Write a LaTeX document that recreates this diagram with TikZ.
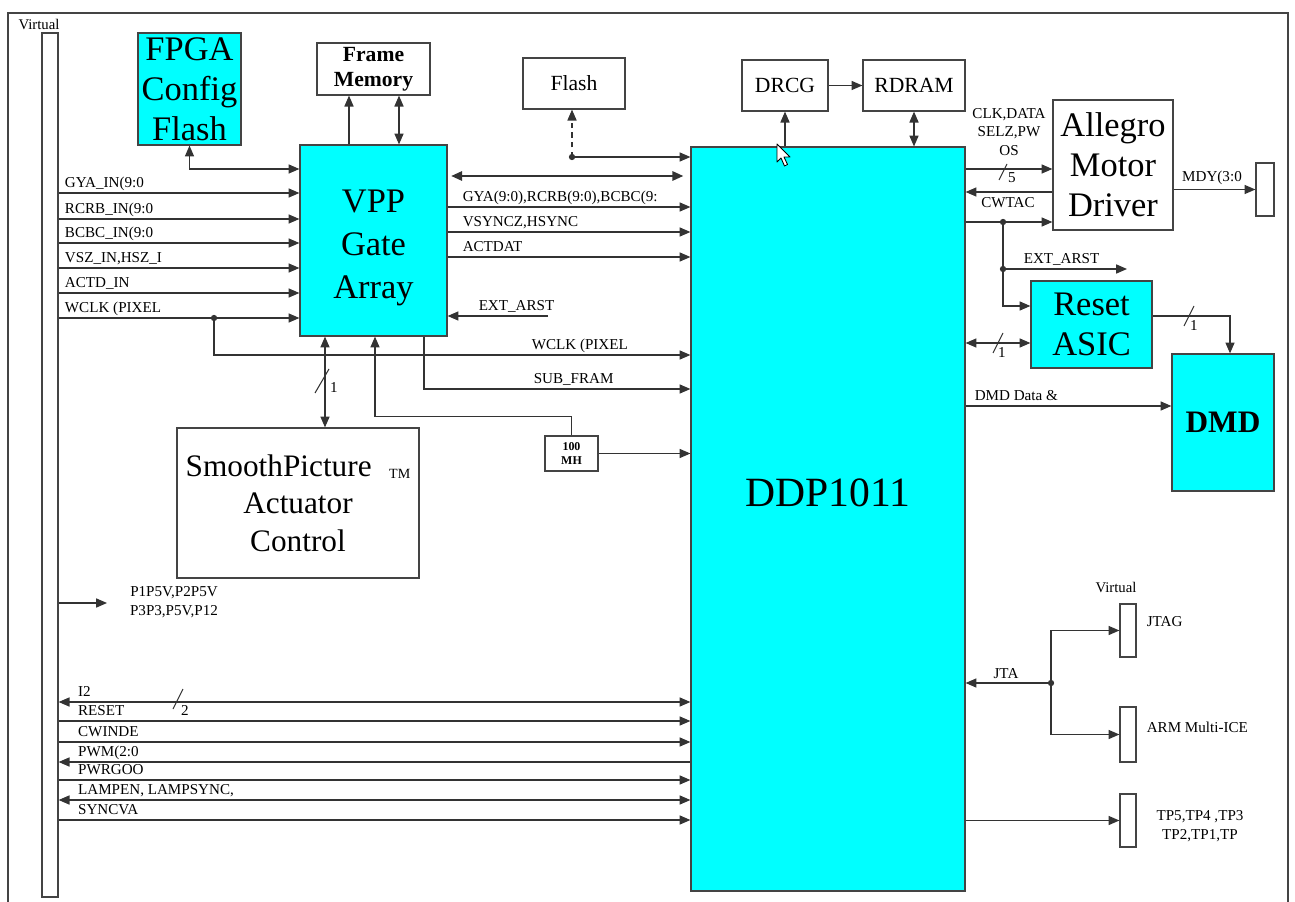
\documentclass[tikz,border=0pt]{standalone}
\usepackage{fontspec}
\setmainfont{Liberation Serif}
\usepackage{xcolor}
\usetikzlibrary{arrows.meta}
\definecolor{asicCyan}{HTML}{00FFFF}
\definecolor{wireGray}{HTML}{333333}
\definecolor{edgeGray}{HTML}{444444}
\tikzset{
    blk/.style={draw=edgeGray, fill=white, line width=0.7pt, inner sep=0pt,
                align=center},
    chip/.style={blk, fill=asicCyan},
    vbar/.style={draw=edgeGray, fill=white, line width=0.7pt, inner sep=0pt,
                 minimum width=0.32cm},
    bigTxt/.style={font=\fontsize{19.6}{22.7}\selectfont, align=center},
    midTxt/.style={font=\fontsize{12.3}{14}\selectfont},
    sig/.style={font=\fontsize{8.6}{10.6}\selectfont, inner sep=0.8pt, align=center},
    tag/.style={sig, text height=0.68em, text depth=0.22em},
    wire/.style={draw=wireGray, line width=0.65pt},
    bus/.style={wire, line width=1.3pt},
    busSlash/.style={draw=wireGray, line width=0.6pt},
    junc/.style={circle, fill=wireGray, inner sep=0pt, minimum size=3.6pt},
}

\begin{document}
\begin{tikzpicture}[x=0.02cm, y=-0.02cm, >={Triangle[length=6.2pt,width=5.2pt]}]
\useasboundingbox (0,0) rectangle (1295,902);

% outer frame, bottom edge runs off the sheet
\draw[edgeGray, line width=0.8pt] (8,902) |- (1288,13) -- (1288,902);
\node[sig, font=\fontsize{8.4}{10}\selectfont] (virtL) at (39,24) {Virtual};

% ---------------- BLOCKS ----------------
\node[vbar, minimum height=17.28cm] (vbarL) at (50,465) {};
\node[chip, bigTxt, minimum width=2.06cm, minimum height=2.24cm] (fpga) at (189.5,89)
     {FPGA\\Config\\Flash};
\node[blk, font=\fontsize{12.3}{14}\selectfont\bfseries,
      minimum width=2.26cm, minimum height=1.04cm] (fmem) at (373.5,69) {Frame\\Memory};
\node[chip, minimum width=2.94cm, minimum height=3.82cm] (vpp) at (373.5,240.5) {};
\node[bigTxt, font=\fontsize{19.6}{24.4}\selectfont] (vppTxt) at (373.5,248)
     {VPP\\Gate\\Array};
\node[blk, midTxt, minimum width=2.04cm, minimum height=1.02cm] (flash) at (574,83.5) {Flash};
\node[blk, midTxt, minimum width=1.72cm, minimum height=1.02cm] (drcg) at (785,85.5) {DRCG};
\node[blk, midTxt, minimum width=2.04cm, minimum height=1.02cm] (rdram) at (914,85.5) {RDRAM};
\node[chip, minimum width=5.48cm, minimum height=14.88cm] (ddp) at (828,519) {};
\node[font=\fontsize{23.7}{28}\selectfont] (ddpTxt) at (828,493) {DDP1011};
\node[blk, bigTxt, minimum width=2.4cm, minimum height=2.6cm] (allegro) at (1113,165)
     {Allegro\\Motor\\Driver};
\node[vbar, minimum width=0.36cm, minimum height=1.06cm] (mdybar) at (1265,189.5) {};
\node[chip, bigTxt, minimum width=2.42cm, minimum height=1.74cm] (reset) at (1091.5,324.5)
     {Reset\\ASIC};
\node[chip, font=\fontsize{17.8}{21}\selectfont\bfseries,
      minimum width=2.04cm, minimum height=2.74cm] (dmd) at (1223,422.5) {DMD};
\node[blk, font=\fontsize{6.8}{8}\selectfont\bfseries,
      minimum width=1.06cm, minimum height=0.7cm] (mh100) at (571.5,453.5) {100\\MH};
\node[blk, font=\fontsize{17.8}{21.3}\selectfont,
      minimum width=4.84cm, minimum height=3cm] (smooth) at (298,503)
     {SmoothPicture\hspace{10pt}\raisebox{-1.5pt}{\fontsize{8}{9}\selectfont TM}\\Actuator\\Control};
\node[vbar, minimum height=1.06cm] (jtagbar) at (1128,630.5) {};
\node[vbar, minimum height=1.1cm]  (armbar)  at (1128,734.5) {};
\node[vbar, minimum height=1.06cm] (tpbar)   at (1128,820.5) {};

% ---------------- VPP SIDE ----------------
\draw[wire, <->] (vpp.west |- 0,169) -| (fpga.south);
\draw[wire, ->]  (vpp.north -| 349,0) -- (fmem.south -| 349,0);
\draw[wire, <->] (vpp.north -| 399,0) -- (fmem.south -| 399,0);

% video inputs from the virtual connector
\foreach \yy/\txt/\nm in {193/GYA\_IN(9:0/iGya, 219/RCRB\_IN(9:0/iRcrb,
        243/BCBC\_IN(9:0/iBcbc, 268/{VSZ\_IN,HSZ\_I}/iSz, 293/ACTD\_IN/iAct,
        318/WCLK (PIXEL/iWclk}
  \draw[wire, ->] (vbarL.east |- 0,\yy) -- (vpp.west |- 0,\yy)
    node[tag, pos=0, anchor=south west, xshift=2.5pt] (\nm) {\txt};

% pixel clock tapped off to the DDP
\node[junc] (wDot) at (214,318) {};
\draw[wire, ->] (wDot.center) |- (ddp.west |- 0,355);
\node[tag, anchor=south west] (wclkLbl) at (530,355) {WCLK (PIXEL};

\draw[wire, ->] (vpp.south -| 424,0) |- (ddp.west |- 0,389);
\node[tag, anchor=south west] (subLbl) at (532,389) {SUB\_FRAM};

\coordinate (arstSrc) at (548,316);
\draw[wire, ->] (arstSrc) -- (vpp.east |- arstSrc);
\node[tag, anchor=south west] (arstLbl) at (477,316) {EXT\_ARST};

% VPP -> DDP
\draw[bus, <->, shorten <=2pt, shorten >=4pt] (vpp.east |- 0,176) -- (ddp.west |- 0,176);
\foreach \yy/\txt/\nm in {207/{GYA(9:0),RCRB(9:0),BCBC(9:}/oGya,
        232/{VSYNCZ,HSYNC}/oSync, 257/ACTDAT/oAct}
  \draw[wire, ->] (vpp.east |- 0,\yy) -- (ddp.west |- 0,\yy)
    node[tag, pos=0, anchor=south west, xshift=7.5pt] (\nm) {\txt};

% program flash
\node[junc] (fDot) at (572,157) {};
\draw[wire, ->, dash pattern=on 3pt off 2.5pt] (fDot.center) -- (flash.south -| fDot.center);
\draw[wire, ->] (fDot.center) -- (ddp.west |- fDot.center);

% actuator link
\draw[wire, <->] (vpp.south -| 325,0) -- (smooth.north -| 325,0);
\draw[busSlash] (322,381) ++(-7,12) -- ++(14,-24);
\node[tag] (smBits) at (334,388) {1};

% 100 MHz oscillator
\draw[wire, ->] (mh100.north) -- ++(0,-19) -| (vpp.south -| 375,0);
\draw[wire, ->] (mh100.east) -- (ddp.west |- mh100.east);

% ---------------- DDP TOP / RIGHT ----------------
\draw[wire, ->]  (ddp.north -| drcg.south) -- (drcg.south);
\draw[wire, ->]  (drcg.east) -- (rdram.west);
\draw[wire, <->] (rdram.south) -- (ddp.north -| rdram.south);

% motor driver
\node[sig] (ctlLbl) at (1009,132) {CLK,DATA\\SELZ,PW\\OS};
\draw[wire, ->] (ddp.east |- 0,169) -- (allegro.west |- 0,169);
\draw[busSlash] (1003,172) ++(-4,8) -- ++(8,-16);
\node[tag] (motBits) at (1012,178) {5};
\draw[wire, ->] (allegro.west |- 0,192) -- (ddp.east |- 0,192);
\node[sig] (cwLbl) at (1008,203) {CWTAC};
\node[junc] (cDot) at (1003,222) {};
\draw[wire, ->] (ddp.east |- cDot.center) -- (allegro.west |- cDot.center);
\draw[wire, ->] (allegro.east |- mdybar.west) -- (mdybar.west);
\node[sig] (mdyLbl) at (1212,178) {MDY(3:0};

% reset chain
\node[junc] (aDot) at (1003,269) {};
\draw[wire] (cDot.center) -- (aDot.center);
\coordinate (arstDst) at (1127,269);
\draw[wire, ->] (aDot.center) -- (arstDst);
\node[tag, anchor=south west] (arst2Lbl) at (1022,269) {EXT\_ARST};
\draw[wire, ->] (aDot.center) |- (reset.west |- 0,306);
\draw[wire, <->] (ddp.east |- 0,343) -- (reset.west |- 0,343);
\draw[busSlash] (998,343) ++(-5,10) -- ++(10,-20);
\node[tag] (rstBits) at (1002,353) {1};
\draw[wire, ->] (reset.east |- 0,316) -| (dmd.north -| 1230,0);
\draw[busSlash] (1189,316) ++(-5,10) -- ++(10,-20);
\node[tag] (dmdBits) at (1194,326) {1};

% DMD data
\draw[wire, ->] (ddp.east |- 0,406) -- (dmd.west |- 0,406);
\node[tag, anchor=south west] (dmdLbl) at (973,406) {DMD Data \&};

% debug connectors
\node[sig, font=\fontsize{8.4}{10}\selectfont] (virtR) at (1116,587) {Virtual};
\node[junc] (jDot) at (1051,683) {};
\draw[wire, ->] (jDot.center) -- (ddp.east |- jDot.center);
\node[sig] (jtaLbl) at (1006,674) {JTA};
\draw[wire, ->] (jDot.center) |- (jtagbar.west);
\draw[wire, ->] (jDot.center) |- (armbar.west);
\node[sig, anchor=west] (jtagLbl) at (1145,622) {JTAG};
\node[sig, anchor=west] (armLbl) at (1145,727) {ARM Multi-ICE};
\draw[wire, ->] (ddp.east |- tpbar.west) -- (tpbar.west);
\node[sig] (tpLbl) at (1200,826) {TP5,TP4 ,TP3\\TP2,TP1,TP};

% ---------------- LEFT BOTTOM ----------------
\coordinate (pwrDst) at (107,603);
\draw[wire, ->] (vbarL.east |- pwrDst) -- (pwrDst);
\node[sig] (pwrLbl) at (174,602) {P1P5V,P2P5V\\P3P3,P5V,P12};

% system control lines to the DDP
\draw[wire, <->] (vbarL.east |- 0,702) -- (ddp.west |- 0,702)
  node[tag, pos=0, anchor=south west, xshift=10pt] (sI2) {I2};
\draw[busSlash] (178,699) ++(-5,10) -- ++(10,-20);
\node[tag] (i2Bits) at (185,711) {2};
\draw[wire, ->] (vbarL.east |- 0,721) -- (ddp.west |- 0,721)
  node[tag, pos=0, anchor=south west, xshift=10pt] (sRst) {RESET};
\draw[wire, ->] (vbarL.east |- 0,742) -- (ddp.west |- 0,742)
  node[tag, pos=0, anchor=south west, xshift=10pt] (sCw) {CWINDE};
\draw[wire, <-] (vbarL.east |- 0,762) -- (ddp.west |- 0,762)
  node[tag, pos=0, anchor=south west, xshift=10pt] (sPwm) {PWM(2:0};
\draw[wire, ->] (vbarL.east |- 0,780) -- (ddp.west |- 0,780)
  node[tag, pos=0, anchor=south west, xshift=10pt] (sPg) {PWRGOO};
\draw[wire, <->] (vbarL.east |- 0,800) -- (ddp.west |- 0,800)
  node[tag, pos=0, anchor=south west, xshift=10pt] (sLamp) {LAMPEN, LAMPSYNC,};
\draw[wire, ->] (vbarL.east |- 0,820) -- (ddp.west |- 0,820)
  node[tag, pos=0, anchor=south west, xshift=10pt] (sSync) {SYNCVA};

% pointer left on the screen capture
\draw[black, fill=white, line width=0.5pt, line join=round] (777,144) -- ++(0,18)
  -- ++(4,-4) -- ++(3.5,8) -- ++(3,-1.5) -- ++(-3.5,-7.5) -- ++(6,0) -- cycle;

\end{tikzpicture}
\end{document}
